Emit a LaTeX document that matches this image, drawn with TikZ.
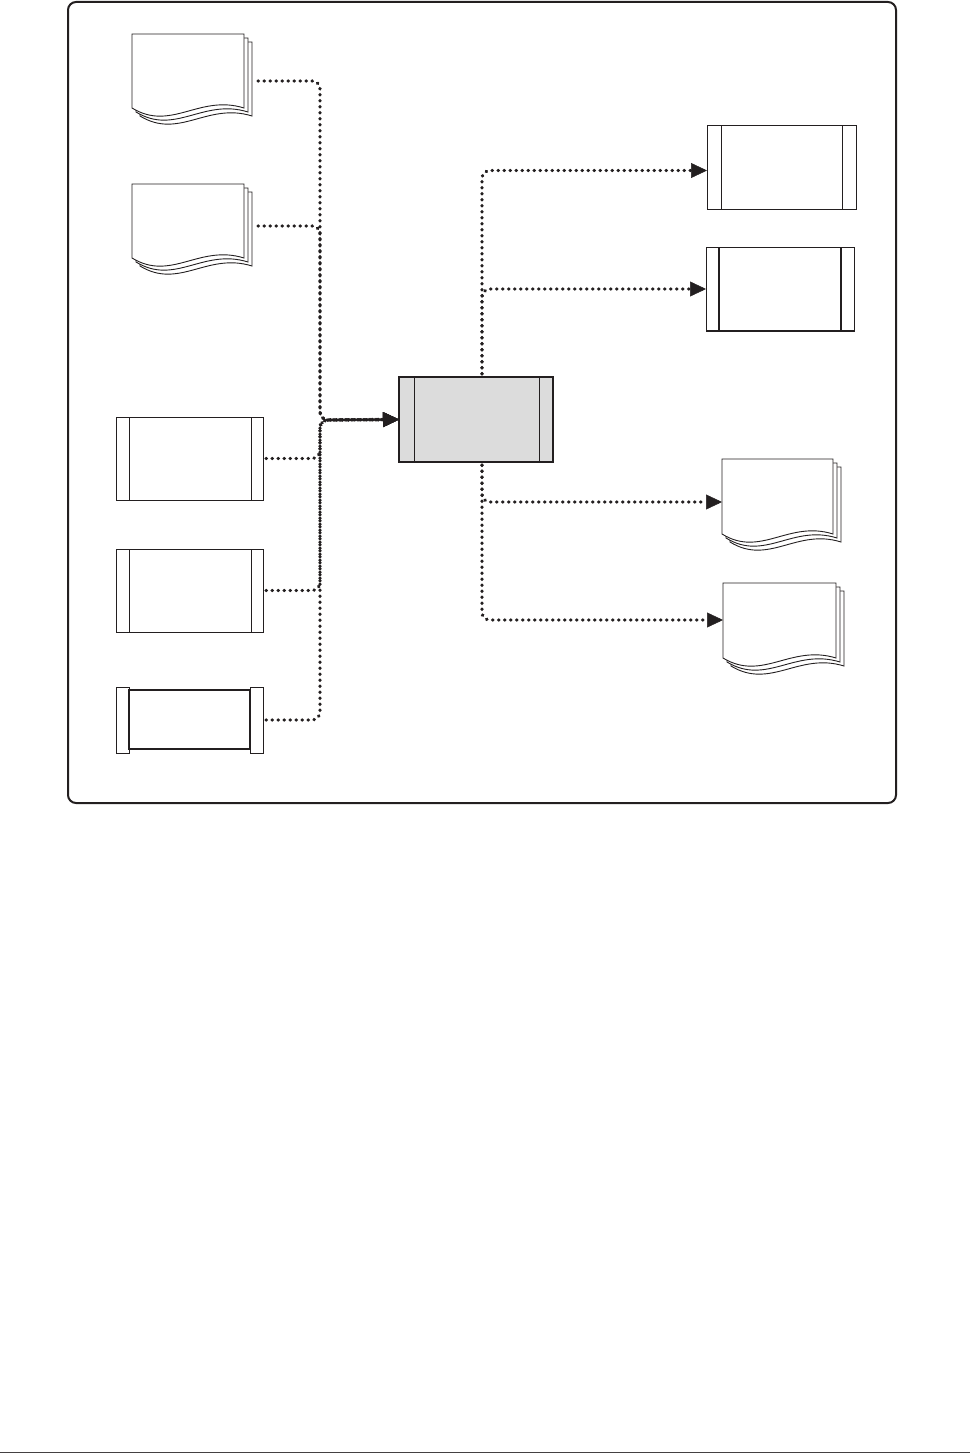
\documentclass[tikz,border=0pt]{standalone}
\usetikzlibrary{arrows.meta}
\definecolor{boxgray}{RGB}{220,220,220}
\definecolor{ink}{RGB}{35,31,32}
\newcommand\docstack[7]{% name, X, Y, w, h, conn y, extra width
  \foreach \o in {8,4,0}{%
    \draw[docline] ({#2+\o},{#3+\o+#5}) -- ({#2+\o},{#3+\o}) -- ({#2+\o+#4},{#3+\o}) -- ({#2+\o+#4},{#3+\o+#5})
      .. controls ({#2+\o+0.6*#4},{#3+\o+#5-14}) and ({#2+\o+0.35*#4},{#3+\o+#5+24}) .. ({#2+\o},{#3+\o+#5}) -- cycle;
  }%
  \node[inv, minimum width={#4+8+#7}, minimum height=20pt, anchor=west] (#1) at (#2,#6) {};
}
\begin{document}
\begin{tikzpicture}[x=1pt,y=-1pt,
  docline/.style={draw=ink, line width=0.9pt, fill=white},
  inv/.style={draw=none, inner sep=0pt, outer sep=0pt},
  proc/.style={draw=ink, line width=1pt, fill=white, inner sep=0pt, outer sep=0pt},
  innerline/.style={draw=ink, line width=1pt},
  conn/.style={draw=ink, line width=3.4pt, line cap=round, dash pattern=on 0.4pt off 5.6pt, rounded corners=8pt, shorten <=3pt},
  arr/.style={conn, -{Triangle[length=16pt,width=15pt,line width=0.5pt]}}
]
\useasboundingbox (0,0) rectangle (970,1453);
% frame
\draw[ink, line width=2pt, rounded corners=8pt] (68,2) rectangle (896,803);
\draw[ink!85, line width=1pt] (0,1452) -- (970,1452);

% left documents
\docstack{d1}{132}{34}{112}{74}{81}{3}
\docstack{d2}{132}{184}{112}{74}{226}{3}
% right documents
\docstack{d3}{722}{459}{111}{75}{502}{0}
\docstack{d4}{723}{583}{113}{75}{620}{0}

% left boxes
\node[proc, minimum width=147pt, minimum height=83pt] (ba) at (189.5,458.5) {};
\draw[innerline] ([xshift=13pt]ba.north west) -- ([xshift=13pt]ba.south west);
\draw[innerline] ([xshift=-12pt]ba.north east) -- ([xshift=-12pt]ba.south east);
\node[proc, minimum width=147pt, minimum height=83pt] (bb) at (189.5,590.5) {};
\draw[innerline] ([xshift=13pt]bb.north west) -- ([xshift=13pt]bb.south west);
\draw[innerline] ([xshift=-12pt]bb.north east) -- ([xshift=-12pt]bb.south east);
\node[inv, minimum width=147pt, minimum height=66pt] (bc) at (189.5,720) {};
\draw[ink, line width=1pt] (bc.north west) rectangle ([xshift=13pt]bc.south west);
\draw[ink, line width=1pt] ([xshift=-13pt]bc.north east) rectangle (bc.south east);
\draw[ink, line width=1.2pt] ([xshift=13pt,yshift=-3pt]bc.north west) rectangle ([xshift=-13pt,yshift=4pt]bc.south east);

% central box
\node[proc, fill=boxgray, line width=1.8pt, minimum width=154pt, minimum height=85pt] (c) at (476,419.5) {};
\draw[innerline] ([xshift=15pt]c.north west) -- ([xshift=15pt]c.south west);
\draw[innerline] ([xshift=-14pt]c.north east) -- ([xshift=-14pt]c.south east);

% right boxes
\node[proc, minimum width=149pt, minimum height=83pt] (r1) at (781.5,167.5) {};
\draw[innerline] ([xshift=14pt]r1.north west) -- ([xshift=14pt]r1.south west);
\draw[innerline] ([xshift=-14pt]r1.north east) -- ([xshift=-14pt]r1.south east);
\node[proc, minimum width=148pt, minimum height=84pt] (r2) at (780,289) {};
\draw[innerline, line width=1.3pt] ([xshift=13pt]r2.north west) -- ([xshift=13pt]r2.south west);
\draw[innerline, line width=1.3pt] ([xshift=-13pt]r2.north east) -- ([xshift=-13pt]r2.south east);
\draw[ink, line width=1.4pt] (r2.south west) -- (r2.south east);

% buses
\coordinate (lbus) at (320,420);
\coordinate (rx) at (482,0);

\draw[arr] (d1.east) -| (lbus) -- (c.west);
\draw[arr] (d2.east) -| (lbus) -- (c.west);
\draw[arr] (ba.east) -| (lbus) -- (c.west);
\draw[arr] (bb.east) -| (lbus) -- (c.west);
\draw[arr] (bc.east) -| (lbus) -- (c.west);

\draw[arr] (c.north -| rx) |- ([yshift=-3pt]r1.west);
\draw[arr] (c.north -| rx) |- (r2.west);
\draw[arr] (c.south -| rx) |- (d3.west);
\draw[arr] (c.south -| rx) |- (d4.west);
\end{tikzpicture}
\end{document}
